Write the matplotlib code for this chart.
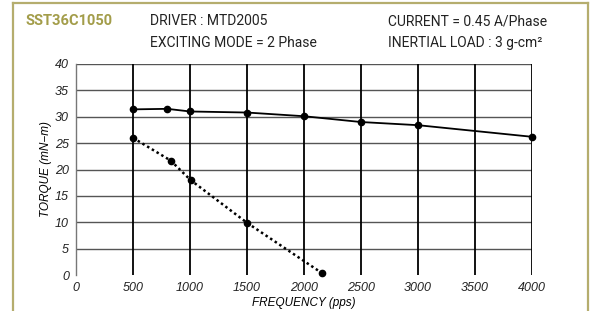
import matplotlib.pyplot as plt
from matplotlib.lines import Line2D

# data
freq_solid = [500, 800, 1000, 1500, 2000, 2500, 3000, 4000]
torque_solid = [31.4, 31.5, 31.0, 30.8, 30.1, 29.0, 28.4, 26.2]
freq_dotted = [500, 830, 1005, 1500, 2155]
torque_dotted = [26.0, 21.7, 18.0, 9.9, 0.4]
xticks = [0, 500, 1000, 1500, 2000, 2500, 3000, 3500, 4000]
yticks = [0, 5, 10, 15, 20, 25, 30, 35, 40]

W, H = 592, 311
fig = plt.figure(figsize=(W / 100, H / 100), dpi=100)
ax = fig.add_axes([76 / W, 1 - 275 / H, 456 / W, 211 / H])

head = 'Roboto'
tickf = 'Liberation Sans'
olive = '#b5ad6e'
# frame around the card
for xs, ys in [([13, 13], [3, H]), ([13, 588], [3, 3]), ([588, 588], [3, H])]:
    fig.add_artist(Line2D([x / W for x in xs], [1 - y / H for y in ys],
                          color=olive, lw=1.6, transform=fig.transFigure))

# grid
for y in yticks[1:]:
    ax.axhline(y, color='#555555', lw=1.0, zorder=1)
for x in xticks[1:]:
    ax.axvline(x, color='black', lw=1.3, zorder=1)

ax.plot(freq_solid, torque_solid, color='black', lw=1.3, marker='o', ms=4.5,
        zorder=3, clip_on=False)
ax.plot(freq_dotted, torque_dotted, color='black', lw=1.8, ls=(0, (1, 1.2)),
        marker='o', ms=4.5, zorder=3, clip_on=False)

ax.set_xlim(0, 4000)
ax.set_ylim(0, 40)
ax.set_xticks(xticks)
ax.set_yticks(yticks)
ax.tick_params(length=0, pad=5)
for lab in ax.get_xticklabels() + ax.get_yticklabels():
    lab.set_fontfamily(tickf)
    lab.set_fontstyle('italic')
    lab.set_fontsize(9)
    lab.set_color('#222222')
for s in ['top', 'right', 'bottom']:
    ax.spines[s].set_visible(False)
ax.spines['left'].set_color('#777777')
ax.spines['left'].set_linewidth(1.0)

ax.set_xlabel('FREQUENCY (pps)', fontfamily=tickf, fontstyle='italic', fontsize=8.5,
              labelpad=2)
ax.set_ylabel('TORQUE (mN\u2212m)', fontfamily=tickf, fontstyle='italic', fontsize=8.5,
              labelpad=2)

fig.text(25 / W, 1 - 21 / H, 'SST36C1050', color='#a39d4a', fontweight='bold',
         fontfamily=head, fontsize=10.5, va='center')
fig.text(150 / W, 1 - 21 / H, 'DRIVER : MTD2005', color='#222222',
         fontfamily=head, fontsize=10, va='center')
fig.text(150 / W, 1 - 43 / H, 'EXCITING MODE = 2 Phase', color='#222222',
         fontfamily=head, fontsize=10, va='center')
fig.text(388 / W, 1 - 21 / H, 'CURRENT = 0.45 A/Phase', color='#222222',
         fontfamily=head, fontsize=10, va='center')
fig.text(388 / W, 1 - 43 / H, 'INERTIAL LOAD : 3 g-cm\u00b2', color='#222222',
         fontfamily=head, fontsize=10, va='center')

fig.savefig('out.png', dpi=100)
